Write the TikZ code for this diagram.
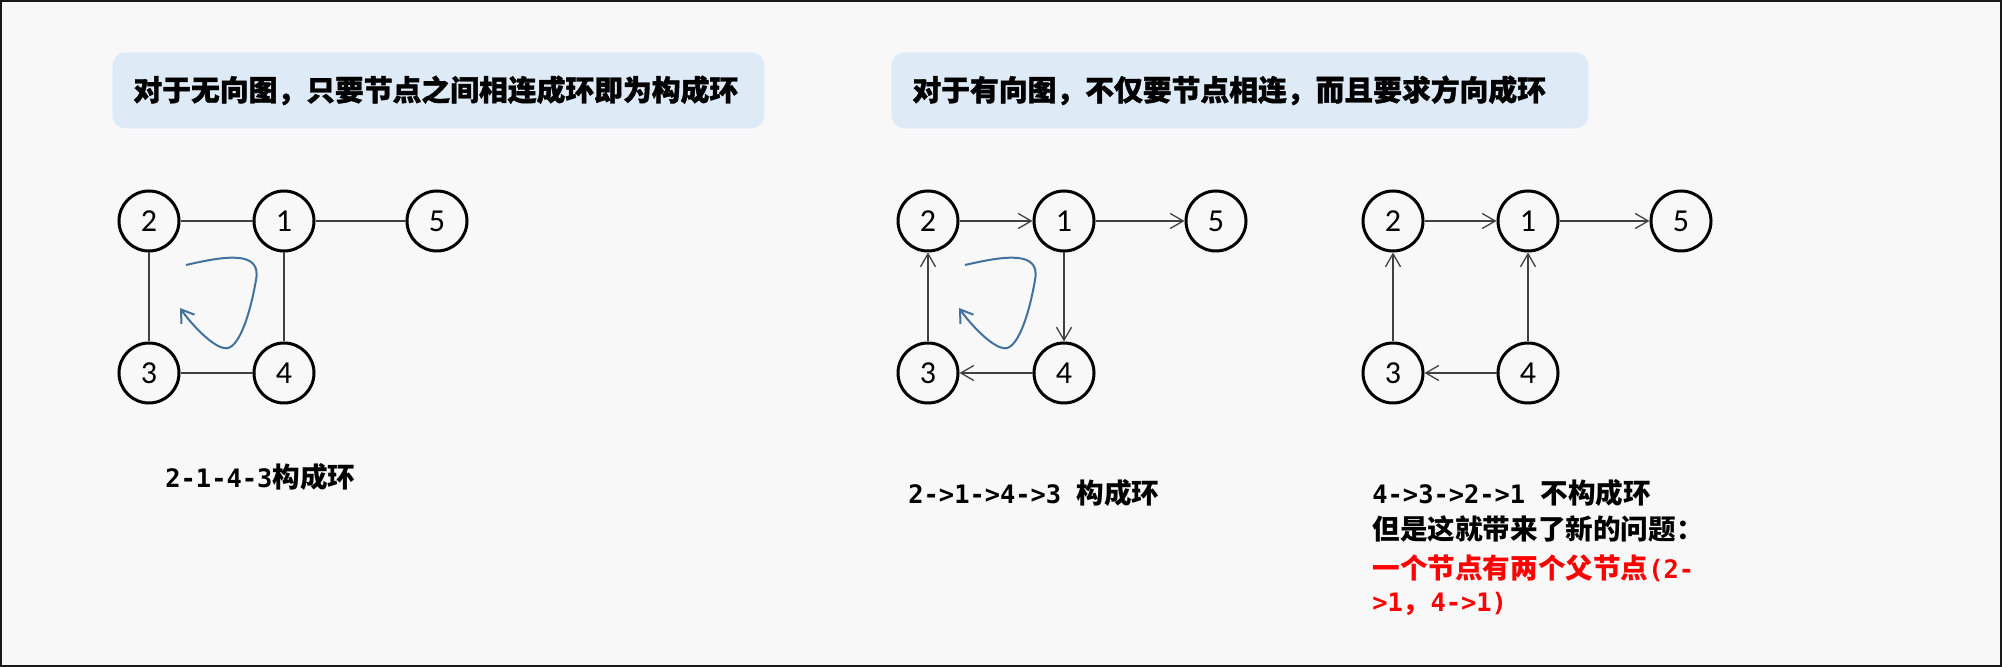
\documentclass[tikz,border=0pt]{standalone}
\usepackage{fontspec}
\usepackage{xcolor}
\usepackage{tikz}
\usetikzlibrary{arrows.meta,positioning}
\newfontfamily\cjk{Noto Sans CJK SC}
\newfontfamily\cjkheavy{Noto Sans CJK SC}[FakeBold=1.2]
\newfontfamily\monob{DejaVu Sans Mono}[Scale=0.92]
\newfontfamily\numfont{Carlito}
\definecolor{pagebg}{HTML}{F8F8F8}
\definecolor{headfill}{HTML}{DEEBF7}
\definecolor{loopblue}{HTML}{41719C}
\definecolor{linkgray}{HTML}{404040}

\begin{document}
\begin{tikzpicture}[
    x=0.5pt, y=-0.5pt,
    vtx/.style={circle, draw, line width=1.5pt, minimum size=30pt,
        inner sep=0pt, font=\numfont\fontsize{16}{16}\selectfont},
    head/.style={rectangle, rounded corners=6.5pt, fill=headfill,
        anchor=north west, minimum height=38pt, inner xsep=10.5pt,
        align=left, font=\cjkheavy\bfseries\fontsize{14.4}{16}\selectfont},
    link/.style={linkgray, line width=0.65pt},
    arr/.style={link, -{Straight Barb[length=6.5pt, width=7.5pt]}},
    turn/.style={loopblue, line width=1pt,
        -{Straight Barb[length=6pt, width=8pt]}},
    remark/.style={anchor=west, inner sep=0pt, align=left,
        font=\cjk\bfseries\fontsize{13.8}{16.5}\selectfont},
    on grid,
]

\useasboundingbox (0,0) rectangle (2002,667);
\fill[pagebg] (0,0) rectangle (2002,667);
\draw[line width=1pt, black!90] (1,1) rectangle (2001,666);

% ── Headers ──
\node[head, text width=305pt] (headu) at (112,52)
    {对于无向图，只要节点之间相连成环即为构成环};
\node[head, text width=327.5pt] (headd) at (891,52)
    {对于有向图，不仅要节点相连，而且要求方向成环};

% ── Undirected graph ──
\node[vtx] (u2) at (149,221) {2};
\node[vtx, right=67.5pt of u2] (u1) {1};
\node[vtx, right=76.5pt of u1] (u5) {5};
\node[vtx, below=76pt of u2] (u3) {3};
\node[vtx, below=76pt of u1] (u4) {4};

\draw[link] (u2) -- (u1);
\draw[link] (u1) -- (u5);
\draw[link] (u2) -- (u3);
\draw[link] (u1) -- (u4);
\draw[link] (u3) -- (u4);

\begin{scope}[shift={(u2)}]
\draw[turn] (37,44) .. controls (76,35) and (113,29) .. (107,59)
    .. controls (101,94) and (89,131) .. (75,127)
    .. controls (63,125) and (43,104) .. (31,87);
\end{scope}

\node[remark] (ures) at (165,477) {{\monob 2-1-4-3}构成环};

% ── Directed graph with a cycle ──
\node[vtx] (c2) at (928,221) {2};
\node[vtx, right=68pt of c2] (c1) {1};
\node[vtx, right=76pt of c1] (c5) {5};
\node[vtx, below=76pt of c2] (c3) {3};
\node[vtx, below=76pt of c1] (c4) {4};

\draw[arr] (c2) -- (c1);
\draw[arr] (c1) -- (c5);
\draw[arr] (c1) -- (c4);
\draw[arr] (c4) -- (c3);
\draw[arr] (c3) -- (c2);

\begin{scope}[shift={(c2)}]
\draw[turn] (37,44) .. controls (76,35) and (113,29) .. (107,59)
    .. controls (101,94) and (89,131) .. (75,127)
    .. controls (63,125) and (43,104) .. (31,87);
\end{scope}

\node[remark] (cres) at (908,493) {{\monob 2->1->4->3\ }构成环};

% ── Directed graph without a cycle ──
\node[vtx] (n2) at (1393,221) {2};
\node[vtx, right=67.5pt of n2] (n1) {1};
\node[vtx, right=76.5pt of n1] (n5) {5};
\node[vtx, below=76pt of n2] (n3) {3};
\node[vtx, below=76pt of n1] (n4) {4};

\draw[arr] (n2) -- (n1);
\draw[arr] (n1) -- (n5);
\draw[arr] (n4) -- (n1);
\draw[arr] (n4) -- (n3);
\draw[arr] (n3) -- (n2);

\node[remark, font=\cjk\bfseries\fontsize{13.8}{18}\selectfont] (nres)
    at (1372,511)
    {{\monob 4->3->2->1\ }不构成环\\但是这就带来了新的问题：};
\node[remark, red] (warn) at (1372,585)
    {一个节点有两个父节点{\monob (2-}\\{\monob >1}，{\monob 4->1)}};

\end{tikzpicture}
\end{document}
